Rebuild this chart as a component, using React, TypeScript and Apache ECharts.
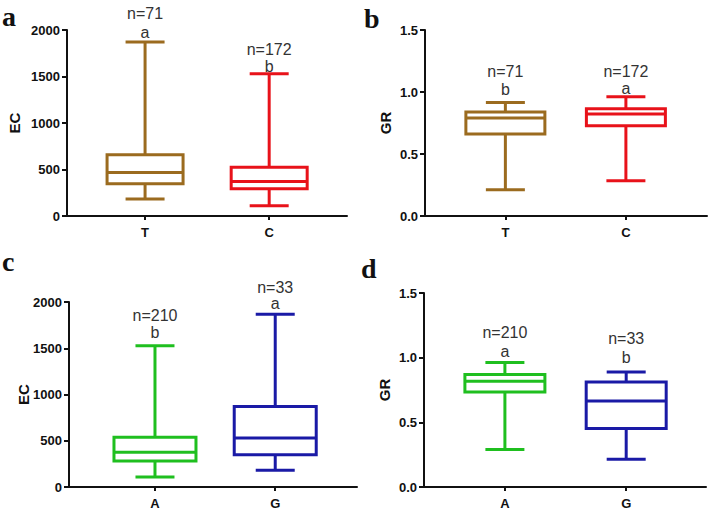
import React, { useEffect, useRef } from "react";
import * as echarts from "echarts";

// ---- data ----
const tcCategories = ["T", "C"];
const agCategories = ["A", "G"];
// each row: [min, Q1, median, Q3, max]
const ecTC = [
  [183, 347, 469, 659, 1871],
  [111, 294, 372, 523, 1530],
];
const grTC = [
  [0.212, 0.661, 0.79, 0.839, 0.916],
  [0.285, 0.728, 0.823, 0.865, 0.962],
];
const ecAG = [
  [108, 280, 376, 538, 1527],
  [180, 348, 531, 871, 1868],
];
const grAG = [
  [0.289, 0.735, 0.817, 0.869, 0.962],
  [0.214, 0.452, 0.665, 0.812, 0.889],
];
const tcCounts = [71, 172];
const agCounts = [210, 33];
const ecTCLetters = ["a", "b"];
const grTCLetters = ["b", "a"];
const ecAGLetters = ["b", "a"];
const grAGLetters = ["a", "b"];
const ecTicks = { min: 0, max: 2000, interval: 500 };
const grTicks = { min: 0, max: 1.5, interval: 0.5 };

// ---- styles / layout ----
const tcColors = ["#9B6B1F", "#E8121A"];
const agColors = ["#1FBF1F", "#1A1AA6"];
const SANS = '"Liberation Sans", Arial, sans-serif';
const SERIF = '"Liberation Serif", "Times New Roman", serif';

type Panel = {
  letter: string;
  letterX: number;
  letterY: number;
  yName: string;
  nameGap: number;
  grid: { left: number; top: number; width: number; height: number };
  xMin: number;
  xMax: number;
  cats: string[];
  boxes: number[][];
  counts: number[];
  letters: string[];
  colors: string[];
  ticks: { min: number; max: number; interval: number };
  decimals: number;
  boxW: number;
  capW: number;
  letterAt: number[];
  countAt: number[];
};

const panels: Panel[] = [
  {
    letter: "a", letterX: 2, letterY: 23, yName: "EC", nameGap: 45,
    grid: { left: 67, top: 30, width: 280, height: 186 },
    xMin: 0.371, xMax: 2.627, cats: tcCategories, boxes: ecTC, counts: tcCounts,
    letters: ecTCLetters, colors: tcColors, ticks: ecTicks, decimals: 0,
    boxW: 76, capW: 39, letterAt: [1968, 1605], countAt: [2179, 1790],
  },
  {
    letter: "b", letterX: 364, letterY: 25, yName: "GR", nameGap: 32,
    grid: { left: 425, top: 30, width: 282, height: 186 },
    xMin: 0.333, xMax: 2.673, cats: tcCategories, boxes: grTC, counts: tcCounts,
    letters: grTCLetters, colors: tcColors, ticks: grTicks, decimals: 1,
    boxW: 79, capW: 39, letterAt: [1.023, 1.025], countAt: [1.164, 1.164],
  },
  {
    letter: "c", letterX: 2, letterY: 268, yName: "EC", nameGap: 38,
    grid: { left: 69, top: 302, width: 288, height: 186 },
    xMin: 0.285, xMax: 2.68, cats: agCategories, boxes: ecAG, counts: agCounts,
    letters: ecAGLetters, colors: agColors, ticks: ecTicks, decimals: 0,
    boxW: 82, capW: 39, letterAt: [1672, 1983], countAt: [1852, 2161],
  },
  {
    letter: "d", letterX: 361, letterY: 275, yName: "GR", nameGap: 32,
    grid: { left: 424, top: 293, width: 282, height: 194 },
    xMin: 0.333, xMax: 2.658, cats: agCategories, boxes: grAG, counts: agCounts,
    letters: grAGLetters, colors: agColors, ticks: grTicks, decimals: 1,
    boxW: 80, capW: 39, letterAt: [1.044, 1.005], countAt: [1.198, 1.147],
  },
];

function buildOption() {
  const grid: any[] = [];
  const xAxis: any[] = [];
  const yAxis: any[] = [];
  const series: any[] = [];
  const graphic: any[] = [];

  panels.forEach((p, i) => {
    grid.push({ ...p.grid, containLabel: false });
    xAxis.push({
      type: "value",
      gridIndex: i,
      min: p.xMin,
      max: p.xMax,
      splitLine: { show: false },
      axisLine: { show: true, onZero: false, lineStyle: { color: "#111", width: 2 } },
      axisTick: { show: true, customValues: [1, 2], length: 4, lineStyle: { color: "#111", width: 2 } },
      axisLabel: {
        show: true,
        customValues: [1, 2],
        formatter: (v: number) => p.cats[Math.round(v) - 1] ?? "",
        margin: 10,
        color: "#111",
        fontSize: 13,
        fontWeight: "bold",
        fontFamily: SANS,
      },
    });
    yAxis.push({
      type: "value",
      gridIndex: i,
      min: p.ticks.min,
      max: p.ticks.max,
      interval: p.ticks.interval,
      name: p.yName,
      nameLocation: "middle",
      nameGap: p.nameGap,
      nameMoveOverlap: false,
      nameTextStyle: { color: "#111", fontSize: 15, fontWeight: "bold", fontFamily: SANS },
      splitLine: { show: false },
      axisLine: { show: true, lineStyle: { color: "#111", width: 2 } },
      axisTick: { show: true, length: 5, lineStyle: { color: "#111", width: 2 } },
      axisLabel: {
        margin: 7,
        color: "#111",
        fontSize: 13,
        fontWeight: "bold",
        fontFamily: SANS,
        formatter: (v: number) => v.toFixed(p.decimals),
      },
    });
    const data = p.boxes.map((b, k) => [k + 1, ...b]);
    series.push({
      type: "custom",
      xAxisIndex: i,
      yAxisIndex: i,
      clip: false,
      encode: { x: 0, y: [1, 2, 3, 4, 5] },
      data,
      renderItem: (params: any, api: any) => {
        const k = params.dataIndex;
        const x = api.value(0);
        const pMin = api.coord([x, api.value(1)]);
        const pQ1 = api.coord([x, api.value(2)]);
        const pMed = api.coord([x, api.value(3)]);
        const pQ3 = api.coord([x, api.value(4)]);
        const pMax = api.coord([x, api.value(5)]);
        const cx = pMin[0];
        const color = p.colors[k];
        const hw = p.boxW / 2;
        const cw = p.capW / 2;
        const ls = { stroke: color, lineWidth: 3, fill: "none" };
        const yLetter = api.coord([x, p.letterAt[k]])[1];
        const yCount = api.coord([x, p.countAt[k]])[1];
        const txt = { fill: "#333", fontSize: 16, fontFamily: SANS, align: "center", verticalAlign: "middle" };
        return {
          type: "group",
          children: [
            { type: "line", shape: { x1: cx, y1: pMax[1], x2: cx, y2: pQ3[1] }, style: ls },
            { type: "line", shape: { x1: cx, y1: pQ1[1], x2: cx, y2: pMin[1] }, style: ls },
            { type: "line", shape: { x1: cx - cw, y1: pMax[1], x2: cx + cw, y2: pMax[1] }, style: ls },
            { type: "line", shape: { x1: cx - cw, y1: pMin[1], x2: cx + cw, y2: pMin[1] }, style: ls },
            {
              type: "rect",
              shape: { x: cx - hw, y: pQ3[1], width: p.boxW, height: pQ1[1] - pQ3[1] },
              style: { stroke: color, lineWidth: 3, fill: "#fff" },
            },
            { type: "line", shape: { x1: cx - hw, y1: pMed[1], x2: cx + hw, y2: pMed[1] }, style: ls },
            { type: "text", x: cx, y: yLetter, style: { ...txt, text: p.letters[k] } },
            { type: "text", x: cx, y: yCount, style: { ...txt, text: "n=" + p.counts[k] } },
          ],
        };
      },
    });
    graphic.push({
      type: "text",
      left: p.letterX,
      top: p.letterY - 21,
      style: { text: p.letter, fill: "#111", fontSize: 28, fontWeight: "bold", fontFamily: SERIF },
    });
  });

  return { animation: false, backgroundColor: "#fff", grid, xAxis, yAxis, series, graphic };
}

export default function App() {
  const ref = useRef<HTMLDivElement>(null);
  useEffect(() => {
    if (!ref.current) return;
    const chart = echarts.init(ref.current, undefined, { renderer: "svg" });
    chart.setOption(buildOption() as any);
    return () => chart.dispose();
  }, []);
  return (
    <div
      ref={ref}
      style={{ position: "absolute", left: 0, top: 0, width: 708, height: 510, background: "#fff" }}
    />
  );
}
